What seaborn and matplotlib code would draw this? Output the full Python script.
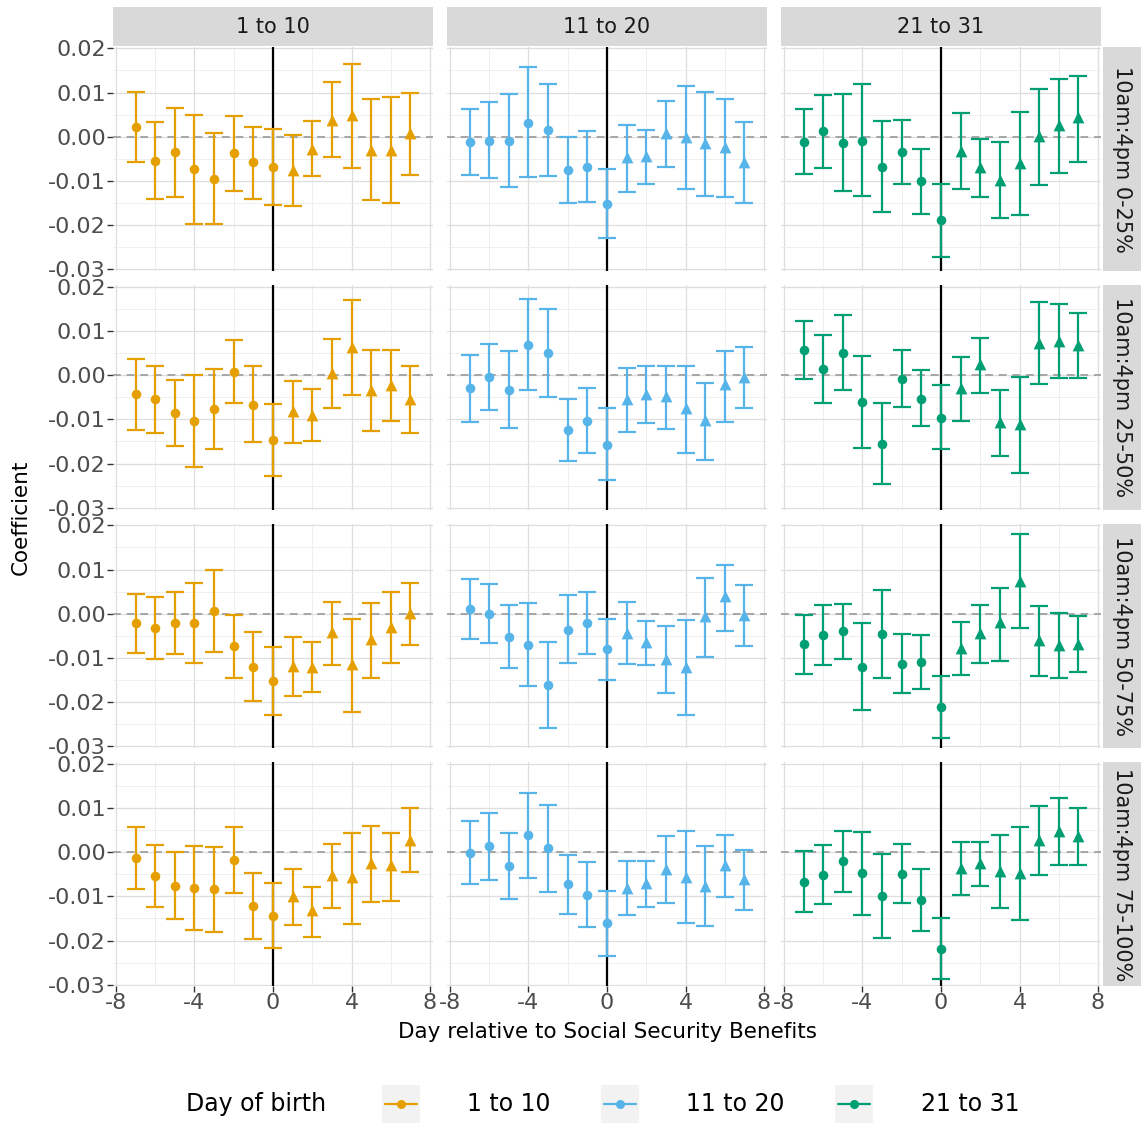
import numpy as np
import pandas as pd
import matplotlib.pyplot as plt
from matplotlib.patches import Rectangle
from matplotlib.lines import Line2D
from matplotlib.ticker import AutoMinorLocator
import seaborn as sns

# days relative to benefit payment
days = list(range(-7, 8))
groups = ['1 to 10', '11 to 20', '21 to 31']
bands = ['10am:4pm 0-25%', '10am:4pm 25-50%', '10am:4pm 50-75%', '10am:4pm 75-100%']
colors = ['#E69F00', '#56B4E9', '#009E73']

# band 0-25%
est_g1_b1 = [0.0023, -0.0055, -0.0035, -0.0073, -0.0095, -0.0038, -0.0058, -0.0068, -0.0075, -0.0028, 0.0038, 0.0048, -0.0030, -0.0030, 0.0008]
lo_g1_b1 = [-0.0057, -0.0140, -0.0137, -0.0198, -0.0198, -0.0122, -0.0140, -0.0154, -0.0157, -0.0090, -0.0047, -0.0071, -0.0144, -0.0149, -0.0086]
hi_g1_b1 = [0.0102, 0.0033, 0.0066, 0.0050, 0.0008, 0.0047, 0.0023, 0.0017, 0.0003, 0.0035, 0.0123, 0.0165, 0.0085, 0.0089, 0.0100]
est_g2_b1 = [-0.0011, -0.0009, -0.0009, 0.0032, 0.0015, -0.0076, -0.0068, -0.0152, -0.0047, -0.0043, 0.0008, 0.0000, -0.0015, -0.0023, -0.0057]
lo_g2_b1 = [-0.0086, -0.0094, -0.0115, -0.0092, -0.0088, -0.0150, -0.0148, -0.0230, -0.0125, -0.0106, -0.0068, -0.0118, -0.0134, -0.0137, -0.0149]
hi_g2_b1 = [0.0063, 0.0078, 0.0097, 0.0158, 0.0119, -0.0001, 0.0013, -0.0074, 0.0027, 0.0015, 0.0081, 0.0114, 0.0101, 0.0086, 0.0033]
est_g3_b1 = [-0.0011, 0.0012, -0.0014, -0.0009, -0.0068, -0.0035, -0.0101, -0.0189, -0.0032, -0.0069, -0.0097, -0.0059, 0.0002, 0.0026, 0.0044]
lo_g3_b1 = [-0.0085, -0.0070, -0.0123, -0.0135, -0.0171, -0.0106, -0.0174, -0.0272, -0.0119, -0.0136, -0.0183, -0.0177, -0.0109, -0.0082, -0.0057]
hi_g3_b1 = [0.0063, 0.0094, 0.0097, 0.0120, 0.0036, 0.0037, -0.0028, -0.0107, 0.0053, -0.0006, -0.0011, 0.0056, 0.0109, 0.0131, 0.0137]

# band 25-50%
est_g1_b2 = [-0.0043, -0.0054, -0.0085, -0.0103, -0.0077, 0.0008, -0.0067, -0.0147, -0.0082, -0.0091, 0.0004, 0.0064, -0.0034, -0.0023, -0.0054]
lo_g1_b2 = [-0.0125, -0.0130, -0.0160, -0.0208, -0.0166, -0.0064, -0.0152, -0.0229, -0.0154, -0.0150, -0.0075, -0.0045, -0.0127, -0.0103, -0.0130]
hi_g1_b2 = [0.0037, 0.0020, -0.0011, 0.0000, 0.0013, 0.0080, 0.0020, -0.0066, -0.0013, -0.0031, 0.0082, 0.0171, 0.0058, 0.0057, 0.0020]
est_g2_b2 = [-0.0030, -0.0005, -0.0033, 0.0069, 0.0050, -0.0125, -0.0103, -0.0157, -0.0054, -0.0042, -0.0048, -0.0075, -0.0102, -0.0021, -0.0005]
lo_g2_b2 = [-0.0106, -0.0079, -0.0119, -0.0034, -0.0049, -0.0195, -0.0177, -0.0238, -0.0129, -0.0109, -0.0122, -0.0176, -0.0192, -0.0105, -0.0075]
hi_g2_b2 = [0.0045, 0.0071, 0.0054, 0.0172, 0.0149, -0.0055, -0.0030, -0.0075, 0.0017, 0.0020, 0.0021, 0.0021, -0.0018, 0.0054, 0.0063]
est_g3_b2 = [0.0056, 0.0014, 0.0050, -0.0061, -0.0155, -0.0008, -0.0053, -0.0097, -0.0030, 0.0026, -0.0107, -0.0111, 0.0072, 0.0078, 0.0069]
lo_g3_b2 = [-0.0009, -0.0063, -0.0034, -0.0165, -0.0247, -0.0072, -0.0115, -0.0168, -0.0103, -0.0040, -0.0182, -0.0221, -0.0021, -0.0006, -0.0006]
hi_g3_b2 = [0.0122, 0.0092, 0.0136, 0.0043, -0.0064, 0.0057, 0.0011, -0.0023, 0.0041, 0.0085, -0.0034, -0.0005, 0.0166, 0.0161, 0.0141]

# band 50-75%
est_g1_b3 = [-0.0021, -0.0033, -0.0022, -0.0022, 0.0006, -0.0073, -0.0120, -0.0153, -0.0118, -0.0120, -0.0042, -0.0115, -0.0058, -0.0029, 0.0002]
lo_g1_b3 = [-0.0088, -0.0102, -0.0092, -0.0112, -0.0086, -0.0145, -0.0198, -0.0230, -0.0187, -0.0177, -0.0117, -0.0223, -0.0145, -0.0112, -0.0070]
hi_g1_b3 = [0.0044, 0.0037, 0.0048, 0.0070, 0.0098, -0.0002, -0.0042, -0.0075, -0.0052, -0.0064, 0.0027, -0.0012, 0.0024, 0.0048, 0.0069]
est_g2_b3 = [0.0011, -0.0001, -0.0052, -0.0070, -0.0161, -0.0036, -0.0021, -0.0081, -0.0044, -0.0064, -0.0102, -0.0121, -0.0006, 0.0039, -0.0004]
lo_g2_b3 = [-0.0057, -0.0067, -0.0122, -0.0164, -0.0258, -0.0112, -0.0092, -0.0149, -0.0115, -0.0117, -0.0180, -0.0230, -0.0098, -0.0039, -0.0073]
hi_g2_b3 = [0.0079, 0.0067, 0.0019, 0.0024, -0.0064, 0.0042, 0.0049, -0.0012, 0.0026, -0.0016, -0.0027, -0.0015, 0.0080, 0.0111, 0.0064]
est_g3_b3 = [-0.0069, -0.0048, -0.0039, -0.0120, -0.0046, -0.0113, -0.0110, -0.0211, -0.0077, -0.0044, -0.0019, 0.0075, -0.0059, -0.0070, -0.0068]
lo_g3_b3 = [-0.0136, -0.0116, -0.0102, -0.0218, -0.0145, -0.0180, -0.0171, -0.0281, -0.0139, -0.0112, -0.0106, -0.0033, -0.0142, -0.0145, -0.0133]
hi_g3_b3 = [-0.0002, 0.0019, 0.0023, -0.0020, 0.0053, -0.0046, -0.0048, -0.0141, -0.0018, 0.0020, 0.0059, 0.0180, 0.0017, 0.0002, -0.0005]

# band 75-100%
est_g1_b4 = [-0.0014, -0.0054, -0.0077, -0.0082, -0.0084, -0.0018, -0.0122, -0.0144, -0.0100, -0.0131, -0.0052, -0.0057, -0.0024, -0.0030, 0.0027]
lo_g1_b4 = [-0.0084, -0.0125, -0.0152, -0.0177, -0.0180, -0.0092, -0.0197, -0.0217, -0.0165, -0.0192, -0.0126, -0.0163, -0.0112, -0.0110, -0.0045]
hi_g1_b4 = [0.0058, 0.0017, 0.0000, 0.0014, 0.0011, 0.0056, -0.0046, -0.0069, -0.0039, -0.0078, 0.0019, 0.0043, 0.0059, 0.0043, 0.0101]
est_g2_b4 = [-0.0002, 0.0013, -0.0031, 0.0038, 0.0010, -0.0073, -0.0096, -0.0161, -0.0080, -0.0070, -0.0037, -0.0057, -0.0077, -0.0030, -0.0061]
lo_g2_b4 = [-0.0073, -0.0064, -0.0105, -0.0058, -0.0089, -0.0139, -0.0169, -0.0236, -0.0142, -0.0124, -0.0114, -0.0161, -0.0167, -0.0101, -0.0130]
hi_g2_b4 = [0.0070, 0.0088, 0.0043, 0.0133, 0.0107, -0.0007, -0.0022, -0.0087, -0.0020, -0.0019, 0.0036, 0.0048, 0.0013, 0.0039, 0.0005]
est_g3_b4 = [-0.0067, -0.0051, -0.0020, -0.0048, -0.0100, -0.0049, -0.0109, -0.0218, -0.0036, -0.0025, -0.0042, -0.0047, 0.0027, 0.0049, 0.0036]
lo_g3_b4 = [-0.0136, -0.0117, -0.0089, -0.0142, -0.0195, -0.0116, -0.0179, -0.0286, -0.0098, -0.0077, -0.0126, -0.0154, -0.0052, -0.0030, -0.0030]
hi_g3_b4 = [0.0002, 0.0016, 0.0047, 0.0045, -0.0005, 0.0018, -0.0039, -0.0148, 0.0023, 0.0022, 0.0039, 0.0058, 0.0105, 0.0123, 0.0101]

panels = {
    (0, 0): (est_g1_b1, lo_g1_b1, hi_g1_b1), (0, 1): (est_g2_b1, lo_g2_b1, hi_g2_b1), (0, 2): (est_g3_b1, lo_g3_b1, hi_g3_b1),
    (1, 0): (est_g1_b2, lo_g1_b2, hi_g1_b2), (1, 1): (est_g2_b2, lo_g2_b2, hi_g2_b2), (1, 2): (est_g3_b2, lo_g3_b2, hi_g3_b2),
    (2, 0): (est_g1_b3, lo_g1_b3, hi_g1_b3), (2, 1): (est_g2_b3, lo_g2_b3, hi_g2_b3), (2, 2): (est_g3_b3, lo_g3_b3, hi_g3_b3),
    (3, 0): (est_g1_b4, lo_g1_b4, hi_g1_b4), (3, 1): (est_g2_b4, lo_g2_b4, hi_g2_b4), (3, 2): (est_g3_b4, lo_g3_b4, hi_g3_b4),
}

rows = []
for (r, c), (est, lo, hi) in panels.items():
    for d, e, l, h in zip(days, est, lo, hi):
        rows.append({'band': bands[r], 'group': groups[c], 'day': d, 'est': e, 'lo': l, 'hi': h})
df = pd.DataFrame(rows)

sns.set_theme(style='white')
plt.rcParams['font.family'] = ['DejaVu Sans']
plt.rcParams['axes.unicode_minus'] = False

W, H = 1141, 1123
g = sns.FacetGrid(df, row='band', col='group', row_order=bands, col_order=groups,
                  sharex=True, sharey=True, despine=False)
g.figure.set_size_inches(W / 100, H / 100)
g.figure.set_dpi(100)


def draw_panel(data, **kws):
    ax = plt.gca()
    col = colors[groups.index(data['group'].iloc[0])]
    ax.axhline(0, color='#A6A6A6', lw=1.4, ls=(0, (4, 3)), zorder=1)
    ax.axvline(0, color='black', lw=1.6, zorder=1)
    ax.errorbar(data['day'], data['est'],
                yerr=[data['est'] - data['lo'], data['hi'] - data['est']],
                fmt='none', ecolor=col, elinewidth=1.6, capsize=6.2, capthick=1.6, zorder=2)
    pre = data[data['day'] <= 0]
    post = data[data['day'] > 0]
    sns.scatterplot(data=pre, x='day', y='est', marker='o', color=col, s=48,
                    linewidth=0, legend=False, ax=ax, zorder=3)
    sns.scatterplot(data=post, x='day', y='est', marker='^', color=col, s=72,
                    linewidth=0, legend=False, ax=ax, zorder=3)


g.map_dataframe(draw_panel)
g.set_axis_labels('', '')

for (r, c), ax in np.ndenumerate(g.axes):
    ax.set_title('')
    ax.set_xlim(-8.15, 8.15)
    ax.set_ylim(-0.0304, 0.0203)
    ax.set_xticks([-8, -4, 0, 4, 8])
    ax.set_yticks([-0.03, -0.02, -0.01, 0.0, 0.01, 0.02])
    ax.set_yticklabels(['-0.03', '-0.02', '-0.01', '0.00', '0.01', '0.02'])
    ax.xaxis.set_minor_locator(AutoMinorLocator(2))
    ax.yaxis.set_minor_locator(AutoMinorLocator(2))
    ax.grid(True, which='major', color='#DEDEDE', lw=0.9)
    ax.grid(True, which='minor', color='#EDEDED', lw=0.6)
    ax.set_axisbelow(True)
    for s in ax.spines.values():
        s.set_visible(False)
    ax.tick_params(which='major', length=4, width=1, color='#333333',
                   labelsize=16, labelcolor='#4D4D4D', pad=1,
                   left=(c == 0), bottom=(r == 3), labelleft=(c == 0), labelbottom=(r == 3))
    ax.tick_params(which='minor', length=0)

left, right = 113 / W, 1101 / W
top, bottom = 1 - 47 / H, 1 - 986.5 / H
g.figure.subplots_adjust(left=left, right=right, top=top, bottom=bottom,
                         wspace=14 / 320, hspace=14.5 / 224)

# strips
for c, name in enumerate(groups):
    ax = g.axes[0, c]
    ax.add_patch(Rectangle((0, 1 + 1.5 / 224), 1, 38 / 224, transform=ax.transAxes,
                           facecolor='#D9D9D9', edgecolor='none', clip_on=False))
    ax.text(0.5, 1 + 20 / 224, name, transform=ax.transAxes, ha='center', va='center',
            fontsize=15, color='#1A1A1A')
for r, name in enumerate(bands):
    ax = g.axes[r, 2]
    ax.add_patch(Rectangle((1 + 1.5 / 320, 0), 39 / 320, 1, transform=ax.transAxes,
                           facecolor='#D9D9D9', edgecolor='none', clip_on=False))
    ax.text(1 + 21 / 320, 0.5, name, transform=ax.transAxes, ha='center', va='center',
            rotation=-90, fontsize=15, color='#1A1A1A')

fig = g.figure
fig.text(21 / W, 1 - 517 / H, 'Coefficient', rotation=90, ha='center', va='center',
         fontsize=15.5, color='black')
fig.text(607 / W, 1 - 1032 / H, 'Day relative to Social Security Benefits', ha='center',
         va='center', fontsize=15.5, color='black')

# legend
ly = 1 - 1104 / H
fig.text(186 / W, ly, 'Day of birth', ha='left', va='center', fontsize=17, color='black')
key_x = [382, 601, 835]
lab_x = [467, 686, 921]
for kx, tx, col, name in zip(key_x, lab_x, colors, groups):
    fig.patches.append(Rectangle((kx / W, 1 - 1123 / H), 38 / W, 38 / H, transform=fig.transFigure,
                                 facecolor='#F2F2F2', edgecolor='none'))
    fig.lines.append(Line2D([(kx + 3) / W, (kx + 35) / W], [ly, ly], transform=fig.transFigure,
                            color=col, lw=1.6))
    fig.lines.append(Line2D([(kx + 19) / W], [ly], transform=fig.transFigure, color=col,
                            marker='o', markersize=6.5, markeredgewidth=0))
    fig.text(tx / W, ly, name, ha='left', va='center', fontsize=17, color='black')

fig.savefig('out.png', dpi=100)
